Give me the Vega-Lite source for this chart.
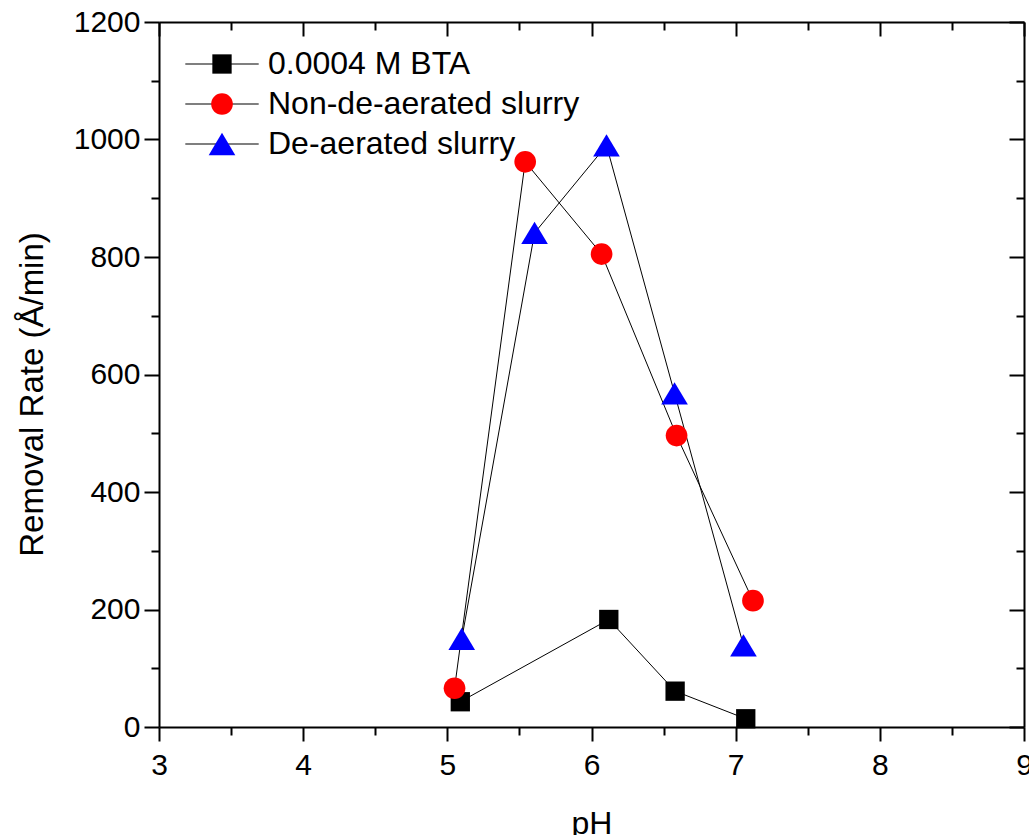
{
  "$schema": "https://vega.github.io/schema/vega-lite/v6.json",
  "width": 865,
  "height": 705,
  "autosize": {"type": "none"},
  "padding": {"left": 159, "top": 22, "right": 5, "bottom": 108},
  "background": "white",
  "config": {
    "view": {"stroke": null},
    "font": "Liberation Sans",
    "legend": {"symbolBaseFillColor": {"expr": "scale('color', datum.value)"}},
    "axis": {
      "grid": false,
      "domainColor": "black",
      "domainWidth": 2,
      "tickColor": "black",
      "tickWidth": 2,
      "labelColor": "black",
      "titleColor": "black",
      "labelFont": "Liberation Sans",
      "titleFont": "Liberation Sans",
      "labelFontSize": 30,
      "titleFontSize": 32,
      "titleFontWeight": "normal",
      "labelFlush": false,
      "labelOverlap": false
    }
  },
  "data": {
    "values": [
      {"series": "0.0004 M BTA", "pH": 5.09, "rate": 43},
      {"series": "0.0004 M BTA", "pH": 6.12, "rate": 183},
      {"series": "0.0004 M BTA", "pH": 6.58, "rate": 61},
      {"series": "0.0004 M BTA", "pH": 7.07, "rate": 14},
      {"series": "Non-de-aerated slurry", "pH": 5.05, "rate": 66},
      {"series": "Non-de-aerated slurry", "pH": 5.54, "rate": 962},
      {"series": "Non-de-aerated slurry", "pH": 6.07, "rate": 805},
      {"series": "Non-de-aerated slurry", "pH": 6.59, "rate": 496},
      {"series": "Non-de-aerated slurry", "pH": 7.12, "rate": 215},
      {"series": "De-aerated slurry", "pH": 5.1, "rate": 150},
      {"series": "De-aerated slurry", "pH": 5.605, "rate": 841},
      {"series": "De-aerated slurry", "pH": 6.104, "rate": 990},
      {"series": "De-aerated slurry", "pH": 6.576, "rate": 568},
      {"series": "De-aerated slurry", "pH": 7.054, "rate": 139}
    ]
  },
  "layer": [
    {
      "mark": {"type": "line", "color": "black", "strokeWidth": 1},
      "encoding": {
        "x": {
          "field": "pH", "type": "quantitative",
          "scale": {"domain": [3, 9], "nice": false, "zero": false},
          "axis": {
            "orient": "bottom",
            "values": [3, 3.5, 4, 4.5, 5, 5.5, 6, 6.5, 7, 7.5, 8, 8.5, 9],
            "labelExpr": "datum.value % 1 === 0 ? format(datum.value, 'd') : ''",
            "tickSize": {"condition": {"test": "datum.value % 1 !== 0", "value": 8}, "value": 14},
            "labelPadding": 9,
            "title": "pH",
            "titleX": 432.5,
            "titleY": 81,
            "titleBaseline": "top"
          }
        },
        "y": {
          "field": "rate", "type": "quantitative",
          "scale": {"domain": [0, 1200], "nice": false, "zero": false},
          "axis": {
            "orient": "left",
            "values": [0, 100, 200, 300, 400, 500, 600, 700, 800, 900, 1000, 1100, 1200],
            "labelExpr": "datum.value % 200 === 0 ? format(datum.value, 'd') : ''",
            "tickSize": {"condition": {"test": "datum.value % 200 !== 0", "value": 8}, "value": 15},
            "labelPadding": 4,
            "title": "Removal Rate (Å/min)",
            "titleFontSize": 33,
            "titleAngle": -90,
            "titleX": -110,
            "titleY": 372,
            "titleAlign": "center",
            "titleBaseline": "bottom"
          }
        },
        "opacity": {
          "field": "series", "type": "nominal",
          "sort": ["0.0004 M BTA", "Non-de-aerated slurry", "De-aerated slurry"],
          "scale": {"range": [1, 1, 1]},
          "legend": {
            "orient": "none", "legendX": 47, "legendY": 26, "title": null, "padding": 0,
            "symbolType": "M-3.8,0H3.8", "symbolSize": 373,
            "symbolStrokeColor": "black", "symbolStrokeWidth": 1.2, "symbolFillColor": "transparent",
            "labelFontSize": 32, "labelFont": "Liberation Sans", "labelOpacity": 0, "labelLimit": 0,
            "labelOffset": 30, "rowPadding": 8, "zindex": 0
          }
        }
      }
    },
    {
      "mark": {"type": "point", "filled": true, "size": 373, "opacity": 1, "strokeWidth": 0},
      "encoding": {
        "x": {"field": "pH", "type": "quantitative", "axis": null},
        "y": {"field": "rate", "type": "quantitative", "axis": null},
        "color": {
          "field": "series", "type": "nominal",
          "sort": ["0.0004 M BTA", "Non-de-aerated slurry", "De-aerated slurry"],
          "scale": {"range": ["#000000", "#ff0000", "#0000ff"]},
          "legend": null
        },
        "shape": {
          "field": "series", "type": "nominal",
          "sort": ["0.0004 M BTA", "Non-de-aerated slurry", "De-aerated slurry"],
          "scale": {"range": ["square", "M1.123,0A1.123,1.123,0,1,1,-1.123,0A1.123,1.123,0,1,1,1.123,0Z", "M0,-1.155L1.38,1.155L-1.38,1.155Z"]},
          "legend": {
            "orient": "top-left", "offset": 26, "symbolOffset": 21, "title": null, "padding": 0,
            "symbolSize": 373, "symbolStrokeWidth": 0,
            "labelFontSize": 32, "labelFont": "Liberation Sans", "labelColor": "black", "labelLimit": 0,
            "labelOffset": 30, "rowPadding": 8, "zindex": 1
          }
        }
      }
    },
    {
      "mark": {"type": "point", "opacity": 0},
      "encoding": {
        "x": {
          "field": "pH", "type": "quantitative",
          "axis": {
            "orient": "top",
            "values": [3, 3.5, 4, 4.5, 5, 5.5, 6, 6.5, 7, 7.5, 8, 8.5, 9],
            "labels": false,
            "title": null,
            "tickSize": {"condition": {"test": "datum.value % 1 !== 0", "value": -8}, "value": -14}
          }
        },
        "y": {
          "field": "rate", "type": "quantitative",
          "axis": {
            "orient": "right",
            "values": [0, 100, 200, 300, 400, 500, 600, 700, 800, 900, 1000, 1100, 1200],
            "labels": false,
            "title": null,
            "tickSize": {"condition": {"test": "datum.value % 200 !== 0", "value": -8}, "value": -15}
          }
        }
      }
    }
  ],
  "resolve": {"axis": {"x": "independent", "y": "independent"}}
}
